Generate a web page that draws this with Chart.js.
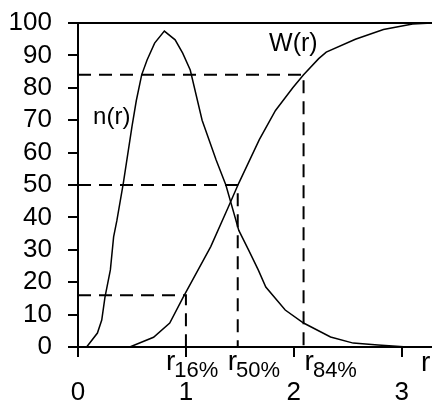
<!DOCTYPE html>
<html>
<head>
<meta charset="utf-8">
<script src="https://cdn.jsdelivr.net/npm/chart.js@4/dist/chart.umd.min.js"></script>
<style>
  body { margin: 0; background: #fff; }
  canvas { display: block; }
</style>
</head>
<body>
<canvas id="size-chart" width="432" height="405"></canvas>
<script>
// n(r) - distribution curve
const nR = [0.08, 0.18, 0.22, 0.25, 0.30, 0.33, 0.36, 0.42, 0.50, 0.54, 0.59, 0.64, 0.71, 0.80, 0.90, 0.97, 1.04, 1.15, 1.28, 1.37, 1.49, 1.58, 1.67, 1.74, 1.92, 2.09, 2.34, 2.55, 2.78, 3.05];
const nValues = [0, 4.3, 8.3, 15.4, 23.8, 34, 39, 50.6, 68, 76, 84, 88.6, 93.8, 97.5, 94.8, 90.7, 85.5, 70, 57.7, 50, 36, 30, 23.8, 18.5, 11.4, 7.4, 3.1, 1.2, 0.6, 0];

// W(r) - cumulative curve
const wR = [0.48, 0.70, 0.85, 0.975, 1.10, 1.23, 1.39, 1.49, 1.68, 1.78, 1.83, 1.99, 2.09, 2.23, 2.30, 2.57, 2.83, 3.10, 3.28];
const wValues = [0, 3, 7.4, 15.4, 23, 31, 43, 50.6, 64, 70, 73, 80, 84, 89, 91, 95, 98, 99.7, 100];

// percentiles
const pctLabels = ["16%", "50%", "84%"];
const pctR = [1.0, 1.48, 2.09];
const pctW = [16, 50, 84];

const xTicks = [0, 1, 2, 3];
const yTicks = [0, 10, 20, 30, 40, 50, 60, 70, 80, 90, 100];

document.addEventListener("DOMContentLoaded", () => {
  const canvas = document.getElementById("size-chart");

  const toPoints = (xs, ys) => xs.map((x, i) => ({ x: x, y: ys[i] }));

  const datasets = [
    { label: "n(r)", data: toPoints(nR, nValues), borderColor: "#000", borderWidth: 1.5 },
    { label: "W(r)", data: toPoints(wR, wValues), borderColor: "#000", borderWidth: 1.5 },
  ];

  // dashed guide lines for each percentile
  pctR.forEach((r, i) => {
    datasets.push({
      label: "r" + pctLabels[i],
      data: [{ x: 0, y: pctW[i] }, { x: r, y: pctW[i] }, { x: r, y: 0 }],
      borderColor: "#000",
      borderWidth: 2,
      borderDash: [13, 8],
    });
  });

  // curve names and r labels
  const textPlugin = {
    id: "texts",
    afterDraw(chart) {
      const ctx = chart.ctx;
      const x = chart.scales.x;
      const y = chart.scales.y;
      ctx.save();
      ctx.fillStyle = "#000";
      ctx.textBaseline = "alphabetic";
      ctx.textAlign = "left";

      ctx.font = "24px 'Liberation Sans', Arial, sans-serif";
      ctx.fillText("n(r)", x.getPixelForValue(0.14), y.getPixelForValue(71.5) + 9);
      ctx.font = "25px 'Liberation Sans', Arial, sans-serif";
      ctx.fillText("W(r)", x.getPixelForValue(1.77), y.getPixelForValue(94) + 9);

      const shift = [-20, -10, 1];
      pctR.forEach((r, i) => {
        const px = x.getPixelForValue(r) + shift[i];
        ctx.font = "28px 'Liberation Sans', Arial, sans-serif";
        ctx.fillText("r", px, 370);
        const w = ctx.measureText("r").width;
        ctx.font = "22px 'Liberation Sans', Arial, sans-serif";
        ctx.fillText(pctLabels[i], px + w - 1, 377);
      });

      ctx.font = "28px 'Liberation Sans', Arial, sans-serif";
      ctx.fillText("r", 421, 371);
      ctx.restore();
    },
  };

  new Chart(canvas, {
    type: "line",
    data: { datasets: datasets },
    options: {
      responsive: false,
      animation: false,
      layout: { padding: { top: 23, right: 0, left: 0, bottom: 0 } },
      elements: { point: { radius: 0 }, line: { tension: 0 } },
      plugins: { legend: { display: false }, tooltip: { enabled: false } },
      scales: {
        x: {
          type: "linear",
          min: 0,
          max: 3.28,
          afterFit: (s) => {
            s.height = 58;
            s.paddingLeft = 0;
            s.paddingRight = 0;
          },
          afterBuildTicks: (s) => { s.ticks = xTicks.map((v) => ({ value: v })); },
          ticks: {
            color: "#000",
            padding: 20,
            autoSkip: false,
            font: { family: "'Liberation Sans', Arial, sans-serif", size: 26 },
            maxRotation: 0,
          },
          grid: { drawOnChartArea: false, tickLength: 10, tickColor: "#000", lineWidth: 2 },
          border: { color: "#000", width: 2 },
        },
        y: {
          min: 0,
          max: 100,
          afterFit: (s) => {
            s.width = 78;
            s.paddingTop = 0;
            s.paddingBottom = 0;
          },
          afterBuildTicks: (s) => { s.ticks = yTicks.map((v) => ({ value: v })); },
          ticks: {
            color: "#000",
            padding: 16,
            autoSkip: false,
            font: { family: "'Liberation Sans', Arial, sans-serif", size: 26 },
          },
          grid: {
            color: (c) => (c.tick && c.tick.value === 100 ? "#000" : "rgba(0,0,0,0)"),
            tickColor: "#000",
            tickLength: 10,
            lineWidth: 2,
          },
          border: { color: "#000", width: 2 },
        },
      },
    },
    plugins: [textPlugin],
  });
});
</script>
</body>
</html>
